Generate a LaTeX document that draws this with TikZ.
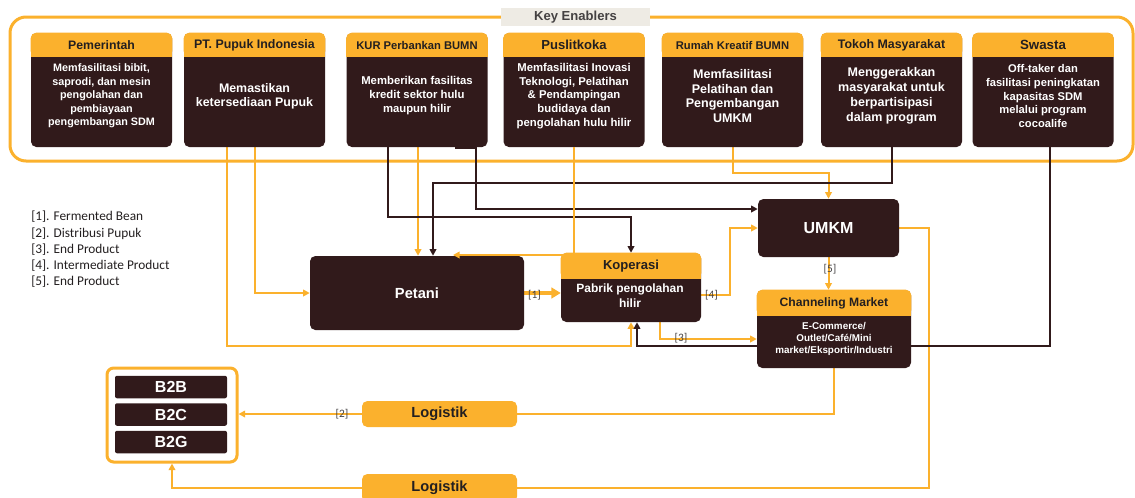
\documentclass[tikz,border=0pt]{standalone}
\usepackage{fontspec}
\setmainfont{Liberation Sans}
\newfontfamily\calib{Carlito}
\usetikzlibrary{arrows.meta,backgrounds}
\definecolor{kyel}{RGB}{251,177,45}
\definecolor{kdark}{RGB}{49,26,27}
\definecolor{kgray}{RGB}{238,235,228}
\definecolor{ktxt}{RGB}{35,31,32}
\newcommand\pxu{0.75pt}
% name, cx, header, header size, body size, body leading, body text
\newcommand\enabler[7]{%
  \node[dbox, minimum width=141*\pxu, minimum height=114*\pxu] (#1) at (#2,90) {};
  \fill[kyel, rounded corners=4pt] (#1.north west) rectangle ([yshift=-24*\pxu]#1.north east);
  \fill[kyel] ([yshift=-12*\pxu]#1.north west) rectangle ([yshift=-24*\pxu]#1.north east);
  \node[htext, font=\bfseries\fontsize{#4}{#4}\selectfont] (#1h) at (#2,45) {#3};
  \node[btext, font=\bfseries\fontsize{#5}{#6}\selectfont] (#1b) at (#2,96) {#7};
}
\begin{document}
\begin{tikzpicture}[x=0.75pt,y=-0.75pt,
  dbox/.style={fill=kdark, rounded corners=4pt, inner sep=0pt, draw=none},
  htext/.style={text=ktxt, inner sep=0pt, align=center},
  btext/.style={text=white, inner sep=0pt, align=center},
  oline/.style={draw=kyel, line width=1.5pt},
  dline/.style={draw=kdark, line width=1.5pt},
  endtip/.style={-{Triangle[length=5pt,width=5pt]}},
  lbl/.style={font=\calib\fontsize{8.5}{10}\selectfont, text=ktxt!85, inner sep=0pt},
  bfbox/.style={fill=kdark, rounded corners=1.5pt, minimum width=112*\pxu, minimum height=22.5*\pxu, inner sep=0pt, text=white, font=\bfseries\fontsize{12}{14}\selectfont},
  lbox/.style={fill=kyel, rounded corners=4pt, minimum width=155*\pxu, minimum height=26*\pxu, inner sep=0pt, text=ktxt, font=\bfseries\fontsize{11}{13}\selectfont},
]
\useasboundingbox (0,0) rectangle (1135,497);

% key enablers frame label
\node[fill=kgray, minimum width=149*\pxu, minimum height=18*\pxu, inner sep=0pt,
      font=\bfseries\fontsize{9.8}{11}\selectfont, text=ktxt!85] (key) at (575.5,17) {Key Enablers};

\enabler{pem}{101.5}{Pemerintah}{9.2}{8.1}{10.1}{Memfasilitasi bibit,\\saprodi, dan mesin\\pengolahan dan\\pembiayaan\\pengembangan SDM}
\enabler{pupuk}{254.5}{PT. Pupuk Indonesia}{9.3}{9.3}{10.7}{Memastikan\\ketersediaan Pupuk}
\enabler{kur}{417}{KUR Perbankan BUMN}{8.4}{8.5}{10.5}{Memberikan fasilitas\\kredit sektor hulu\\maupun hilir}
\enabler{pus}{574}{Puslitkoka}{9.8}{8.5}{10.3}{Memfasilitasi Inovasi\\Teknologi, Pelatihan\\\& Pendampingan\\budidaya dan\\pengolahan hulu hilir}
\enabler{rumah}{732.5}{Rumah Kreatif BUMN}{8.4}{9.4}{11.2}{Memfasilitasi\\Pelatihan dan\\Pengembangan\\UMKM}
\enabler{tokoh}{891.5}{Tokoh Masyarakat}{9.3}{9.4}{11.2}{Menggerakkan\\masyarakat untuk\\berpartisipasi\\dalam program}
\enabler{swasta}{1043}{Swasta}{10}{8.4}{10.3}{Off-taker dan\\fasilitasi peningkatan\\kapasitas SDM\\melalui program\\cocoalife}
% small notch under the KUR box
\fill[kdark] (455,146) rectangle (477,149);

% legend
\node[anchor=west, align=left, inner sep=0pt, font=\calib\fontsize{10}{12.2}\selectfont, text=ktxt] (legend) at (31,249.5)
  {{[1]}. Fermented Bean\\{[2]}. Distribusi Pupuk\\{[3]}. End Product\\{[4]}. Intermediate Product\\{[5]}. End Product};

% Petani
\node[dbox, minimum width=214*\pxu, minimum height=74*\pxu, text=white, font=\bfseries\fontsize{11}{13}\selectfont] (petani) at (417,293) {Petani};

% Koperasi
\node[dbox, minimum width=140*\pxu, minimum height=69*\pxu] (kop) at (631,287.5) {};
\fill[kyel, rounded corners=4pt] (kop.north west) rectangle ([yshift=-26*\pxu]kop.north east);
\fill[kyel] ([yshift=-13*\pxu]kop.north west) rectangle ([yshift=-26*\pxu]kop.north east);
\node[htext, font=\bfseries\fontsize{9.8}{11}\selectfont] (koph) at (631,266) {Koperasi};
\node[btext, font=\bfseries\fontsize{9}{11.25}\selectfont] (kopb) at (630,295.5) {Pabrik pengolahan\\hilir};

% UMKM
\node[dbox, minimum width=141*\pxu, minimum height=58*\pxu, text=white, font=\bfseries\fontsize{12}{14}\selectfont] (umkm) at (828.5,228) {UMKM};

% Channeling Market
\node[dbox, minimum width=154*\pxu, minimum height=78*\pxu] (chan) at (834,329) {};
\fill[kyel, rounded corners=4pt] (chan.north west) rectangle ([yshift=-26*\pxu]chan.north east);
\fill[kyel] ([yshift=-13*\pxu]chan.north west) rectangle ([yshift=-26*\pxu]chan.north east);
\node[htext, font=\bfseries\fontsize{9.1}{11}\selectfont] (chanh) at (834,303) {Channeling Market};
\node[btext, font=\bfseries\fontsize{7.4}{9}\selectfont] (chanb) at (834,339) {E-Commerce/\\Outlet/Café/Mini\\market/Eksportir/Industri};

% bottom
\node[draw=kyel, line width=2.25pt, rounded corners=5pt, minimum width=130*\pxu, minimum height=94*\pxu, inner sep=0pt] (cont) at (172,415) {};
\node[bfbox] (b2b) at (171,387) {B2B};
\node[bfbox] (b2c) at (171,414.5) {B2C};
\node[bfbox] (b2g) at (171,442) {B2G};
\node[lbox] (log1) at (439.5,414) {Logistik};
\node[lbox, minimum height=28*\pxu] (log2) at (439.5,488) {Logistik};

% connector labels
\node[lbl] (l1) at (534.5,295) {[1]};
\node[lbl] (l2) at (342,414) {[2]};
\node[lbl] (l3) at (681,338) {[3]};
\node[lbl] (l4) at (711.5,295) {[4]};
\node[lbl] (l5) at (830,269) {[5]};

\begin{scope}[on background layer]
  \node[draw=kyel, line width=2.25pt, rounded corners=12pt, minimum width=1123*\pxu, minimum height=144*\pxu, inner sep=0pt] (frame) at (571.5,89) {};
  % orange connectors
  \draw[oline,endtip] (227,0 |- pupuk.south) |- (kop.south |- 0,346) -- (kop.south);
  \draw[oline,endtip] (255,0 |- pupuk.south) |- (petani.west);
  \draw[oline,endtip] (418,0 |- kur.south) -- (418,0 |- petani.north);
  \draw[oline,endtip] (rumah.south) |- (umkm.north |- 0,173) -- (umkm.north);
  \draw[oline,endtip] (kop.east |- 0,295) -- (730,295) |- (umkm.west);
  \draw[oline,endtip] (660,0 |- kop.south) |- (chan.west |- 0,339);
  \draw[oline,endtip] (umkm.south) -- (umkm.south |- chan.north);
  \draw[oline] (umkm.east) -| (929,0 |- log2.east) -- (log2.east);
  \draw[oline] (chan.south) |- (log1.east);
  \draw[oline,endtip] (log1.west) -- (log1.west -| cont.east);
  \draw[oline,endtip] (log2.west) -| (cont.south);
  \draw[oline, line width=3pt, -{Triangle[length=7pt,width=8pt]}] (petani.east) -- (petani.east -| kop.west);
  % dark connectors
  \draw[dline,endtip] (388,0 |- kur.south) |- (kop.north |- 0,217) -- (kop.north);
  \draw[dline,endtip] (476,0 |- kur.south) |- (umkm.west |- 0,209);
  \draw[dline,endtip] (tokoh.south) |- (433,183) -- (433,0 |- petani.north);
  \draw[dline,endtip] (1050,0 |- swasta.south) |- (637,346) -- (637,0 |- kop.south);
\end{scope}
\draw[oline,endtip] (pus.south) |- (453,255);
\end{tikzpicture}
\end{document}
